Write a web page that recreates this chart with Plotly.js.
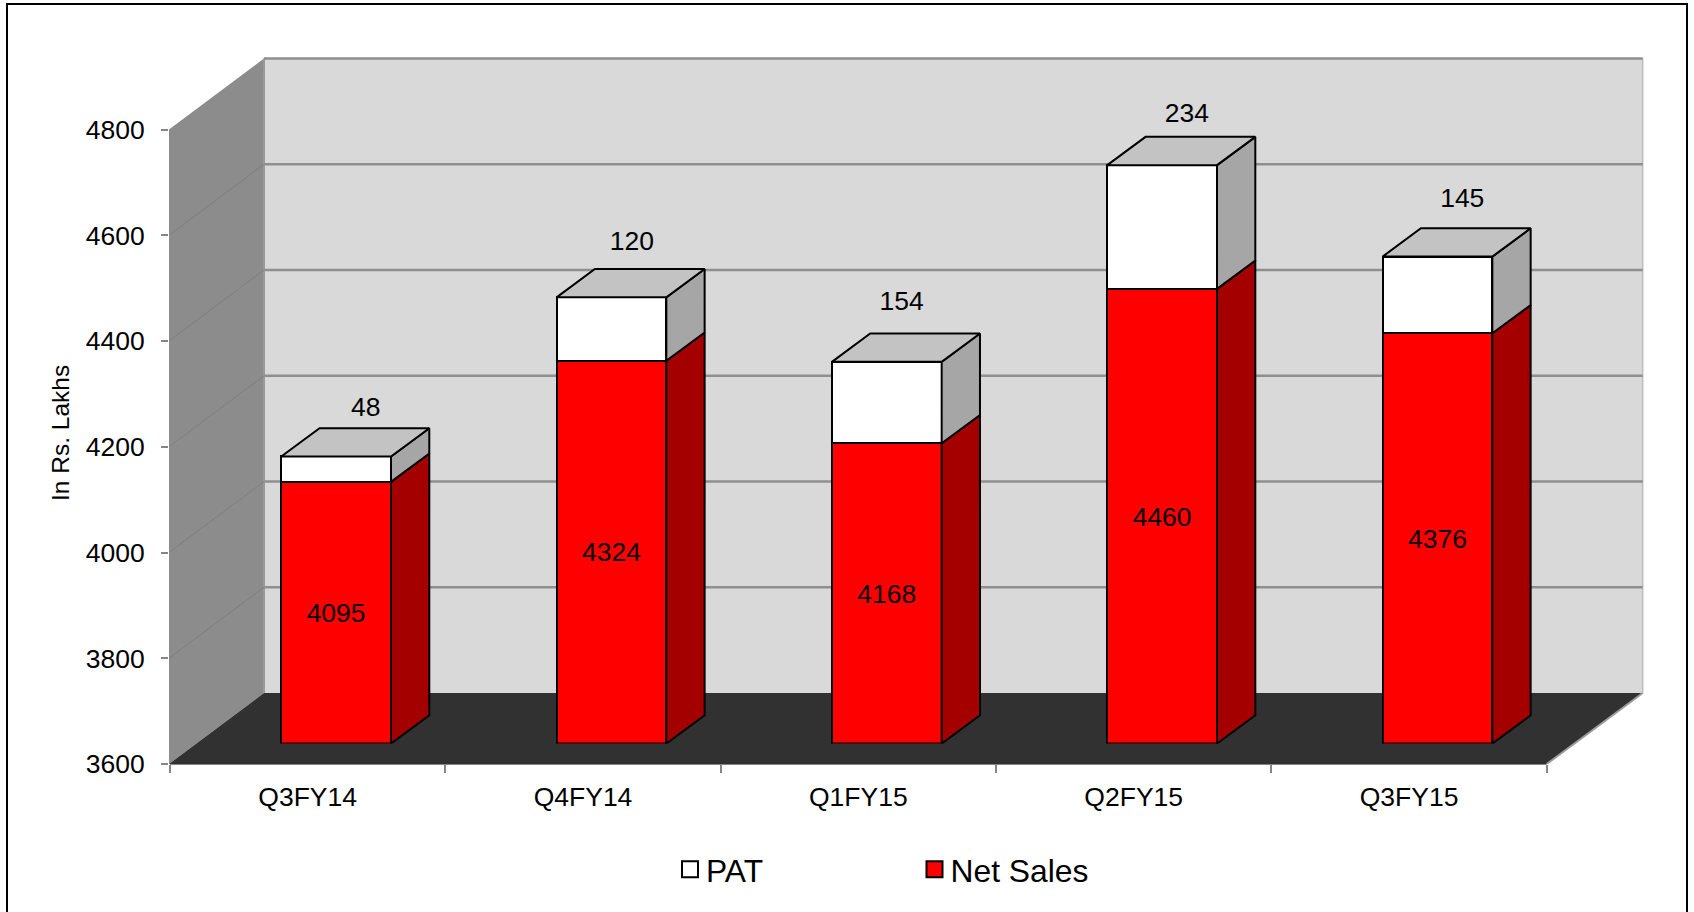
<!DOCTYPE html>
<html>
<head>
<meta charset="utf-8">
<script src="https://cdn.plot.ly/plotly-3.0.1.min.js"></script>
<style>html,body{margin:0;padding:0;background:#fff;overflow:hidden}#chart{width:1694px;height:912px}</style>
</head>
<body>
<div id="chart"></div>
<script>
// ---- chart data ----
const categories = ['Q3FY14', 'Q4FY14', 'Q1FY15', 'Q2FY15', 'Q3FY15'];
const netSales = [4095, 4324, 4168, 4460, 4376];
const pat = [48, 120, 154, 234, 145];
const tickValues = [3600, 3800, 4000, 4200, 4400, 4600, 4800];
const yTitle = 'In Rs. Lakhs';

// hand-placed PAT label nudges from the bar's top centre (category units, value units)
const patLabelDX = [0.108, 0.074, 0.054, 0.090, 0.090];
const patLabelDY = [90, 102, 111, 94, 106];
const netLabelNudge = -5;

// ---- frame ----
const W = 1694, H = 912;
const L = 169, R = 1654, T = 50, B = 764;
const unitPx = 0.52875, catW = 275.34;
const yMin = 3600;
const plotH = B - T, plotW = R - L;
const xRange = [-0.5 - 1 / catW, -0.5 - 1 / catW + plotW / catW];
const yRange = [yMin, yMin + plotH / unitPx];
const floorShiftPx = 20.4;

// 3D projection offsets
const wallDX = 95 / catW, wallDXR = 96 / catW, wallDY = 71 / unitPx;
const barOff = -0.0960, barW = 0.3986;
const depthDX = 38.3 / catW, depthDY = 28.3 / unitPx;

const px = v => (v - L) / plotW;
const py = v => (B - v) / plotH;

const totals = netSales.map((v, i) => v + pat[i]);
const left = i => i + barOff, right = i => i + barOff + barW;

function polys(fn) {
  const xs = [], ys = [];
  categories.forEach((c, i) => {
    fn(i).forEach(p => { xs.push(p[0]); ys.push(p[1]); });
    xs.push(null); ys.push(null);
  });
  return {x: xs, y: ys};
}
const face = (pts, fill) => Object.assign({
  type: 'scatter', mode: 'lines', xaxis: 'x2', yaxis: 'y2', fill: 'toself', fillcolor: fill,
  line: {color: '#000', width: 2}, showlegend: false, hoverinfo: 'skip', cliponaxis: false
}, pts);

const sideNet = face(polys(i => [
  [right(i), yMin], [right(i) + depthDX, yMin + depthDY],
  [right(i) + depthDX, netSales[i] + depthDY], [right(i), netSales[i]], [right(i), yMin]
]), '#a40000');
const sidePat = face(polys(i => [
  [right(i), netSales[i]], [right(i) + depthDX, netSales[i] + depthDY],
  [right(i) + depthDX, totals[i] + depthDY], [right(i), totals[i]], [right(i), netSales[i]]
]), '#a6a6a6');
const topFace = face(polys(i => [
  [left(i), totals[i]], [right(i), totals[i]], [right(i) + depthDX, totals[i] + depthDY],
  [left(i) + depthDX, totals[i] + depthDY], [left(i), totals[i]]
]), '#c3c3c3');
const baseEdge = Object.assign(face(polys(i => [[left(i), yMin], [right(i), yMin]]), 'rgba(0,0,0,0)'), {fill: 'none'});

const barCommon = {
  type: 'bar', x: categories, xaxis: 'x', yaxis: 'y2', width: barW, offset: barOff,
  showlegend: false, hoverinfo: 'x+y'
};
const netBar = Object.assign({}, barCommon, {name: 'Net Sales', y: netSales, marker: {color: '#ff0000', line: {color: '#000', width: 2}}});
const patBar = Object.assign({}, barCommon, {name: 'PAT', y: pat, marker: {color: '#ffffff', line: {color: '#000', width: 2}}});

const textFont = {family: '"Liberation Sans", Arial, sans-serif', size: 26.5, color: '#000'};
const netLabels = {
  type: 'scatter', mode: 'text', xaxis: 'x2', yaxis: 'y2', showlegend: false, hoverinfo: 'skip', cliponaxis: false,
  x: categories.map((c, i) => i + barOff + barW / 2),
  y: netSales.map(v => (v + yMin) / 2 + netLabelNudge),
  text: netSales.map(String), textposition: 'middle center', textfont: textFont
};
const patLabels = {
  type: 'scatter', mode: 'text', xaxis: 'x2', yaxis: 'y2', showlegend: false, hoverinfo: 'skip', cliponaxis: false,
  x: categories.map((c, i) => i + barOff + barW / 2 + patLabelDX[i]),
  y: totals.map((v, i) => v + patLabelDY[i]),
  text: pat.map(String), textposition: 'middle center', textfont: textFont
};
const legendTrace = (name, color) => ({
  type: 'scatter', mode: 'markers', name, x: [categories[0]], y: [null], xaxis: 'x', yaxis: 'y',
  marker: {symbol: 'square', size: 16, color, line: {color: '#000', width: 2}}, hoverinfo: 'skip'
});

// ---- walls, floor and gridlines ----
const xw = xRange[0], x0 = -0.5, x1 = 4.5, yTop = tickValues[tickValues.length - 1];
const shp = (o) => Object.assign({xref: 'x', yref: 'y', layer: 'below'}, o);
const poly = pts => 'M' + pts.map(p => p[0] + ',' + p[1]).join(' L') + ' Z';
const shapes = [
  shp({type: 'path', path: poly([[xw, yMin], [xw, yTop], [xw + wallDX, yTop + wallDY], [xw + wallDX, yMin + wallDY]]), fillcolor: '#8c8c8c', line: {width: 0}}),
  shp({type: 'rect', x0: xw + wallDX, x1: x1 + wallDXR, y0: yMin + wallDY, y1: yTop + wallDY, fillcolor: '#d9d9d9', line: {width: 0}}),
  shp({type: 'path', path: poly([[xw, yMin], [x1, yMin], [x1 + wallDXR, yMin + wallDY], [xw + wallDX, yMin + wallDY]]), fillcolor: '#313131', line: {width: 0}}),
  shp({type: 'line', x0: xw + wallDX, x1: xw + wallDX, y0: yMin + wallDY, y1: yTop + wallDY, line: {color: '#999999', width: 2}}),
  shp({type: 'line', x0: x1 + wallDXR, x1: x1 + wallDXR, y0: yMin + wallDY, y1: yTop + wallDY, line: {color: '#bdbdbd', width: 1.5}}),
  shp({type: 'line', x0: x1, x1: x1 + wallDXR, y0: yMin, y1: yMin + wallDY, line: {color: '#9a9a9a', width: 2}}),
  {type: 'line', xref: 'x', yref: 'paper', x0: x0, x1: x1, y0: 0, y1: 0, line: {color: '#868686', width: 2}, layer: 'below'},
  {type: 'rect', xref: 'paper', yref: 'paper', x0: px(7), x1: px(1687), y0: py(925), y1: py(4), line: {color: '#000', width: 2}, fillcolor: 'rgba(0,0,0,0)', layer: 'above'}
];
tickValues.forEach(v => {
  if (v > yMin) {
    shapes.push(shp({type: 'line', x0: xw + wallDX, x1: x1 + wallDXR, y0: v + wallDY, y1: v + wallDY, line: {color: '#8f8f8f', width: 2.5}}));
    if (v < yTop) shapes.push(shp({type: 'line', x0: xw, x1: xw + wallDX, y0: v, y1: v + wallDY, line: {color: '#7f7f7f', width: 1}}));
  }
});

const layout = {
  width: W, height: H, autosize: false, showlegend: true,
  margin: {l: L, r: W - R, t: T, b: H - B, pad: 0},
  paper_bgcolor: '#ffffff', plot_bgcolor: 'rgba(0,0,0,0)',
  font: {family: '"Liberation Sans", Arial, sans-serif', color: '#000'},
  barmode: 'stack', hovermode: 'closest',
  xaxis: {
    type: 'category', categoryorder: 'array', categoryarray: categories, range: xRange,
    tickson: 'boundaries', ticks: 'outside', ticklen: 8, tickwidth: 2, tickcolor: '#868686',
    tickfont: {size: 26.5, color: '#000'}, showgrid: false, showline: false, zeroline: false, fixedrange: true, anchor: 'y', ticklabelstandoff: 14
  },
  yaxis: {
    range: yRange, tickvals: tickValues, ticktext: tickValues.map(String),
    ticks: 'outside', ticklen: 7, tickwidth: 2, tickcolor: '#868686',
    tickfont: {size: 26.5, color: '#000'}, showgrid: false, showline: false, zeroline: false, fixedrange: true, anchor: 'x', ticklabelstandoff: 11
  },
  xaxis2: {overlaying: 'x', range: xRange, visible: false, fixedrange: true, anchor: 'y2'},
  yaxis2: {domain: [floorShiftPx / plotH, 1], range: [yMin, yMin + (plotH - floorShiftPx) / unitPx], visible: false, fixedrange: true, anchor: 'x'},
  shapes,
  annotations: [{
    text: yTitle, xref: 'paper', yref: 'paper', x: px(60), y: py(433), xanchor: 'center', yanchor: 'middle',
    textangle: -90, showarrow: false, font: {size: 24.5, color: '#000'}
  }],
  legend: {
    orientation: 'h', xref: 'container', yref: 'container', x: 666 / W, xanchor: 'left', y: 1 - 842 / H, yanchor: 'top', bgcolor: 'rgba(0,0,0,0)',
    font: {size: 31.8, color: '#000'}, entrywidth: 199.5, entrywidthmode: 'pixels', traceorder: 'normal', itemclick: false, itemdoubleclick: false
  }
};

const traces = [
  legendTrace('PAT', '#ffffff'), legendTrace('Net Sales', '#ff0000'),
  netBar, patBar, baseEdge, sideNet, sidePat, topFace, netLabels, patLabels
];
Plotly.newPlot('chart', traces, layout, {displayModeBar: false, responsive: false}).then(gd => {
  // pull the swatches closer to their legend text, as in the reference
  gd.querySelectorAll('.legend .legendpoints').forEach(g => g.setAttribute('transform', 'translate(4,0)'));
});
</script>
</body>
</html>
